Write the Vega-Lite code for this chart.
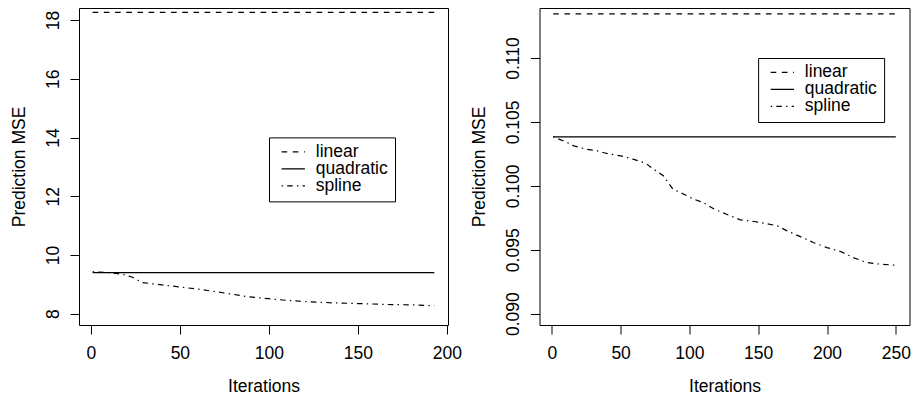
{
  "$schema": "https://vega.github.io/schema/vega-lite/v6.json",
  "padding": {"left": 9, "top": 7, "right": 0, "bottom": 0},
  "bounds": "flush",
  "spacing": 91.5,
  "config": {
    "font": "Liberation Sans",
    "view": {"stroke": "black", "strokeWidth": 1},
    "axis": {
      "grid": false, "domain": false, "ticks": true, "tickColor": "black", "tickSize": 9, "tickWidth": 1,
      "labelFont": "Liberation Sans", "labelFontSize": 17.5, "labelColor": "black",
      "titleFont": "Liberation Sans", "titleFontSize": 17.5, "titleFontWeight": "normal", "titleColor": "black"
    },
    "axisX": {"labelPadding": 10, "titleY": 66, "titleBaseline": "alphabetic"},
    "axisY": {"labelAngle": -90, "labelAlign": "center", "labelBaseline": "alphabetic", "labelPadding": 12, "titleX": -55, "titleY": 158.5, "titleBaseline": "alphabetic"},
    "legend": {
      "orient": "none", "symbolType": "stroke", "symbolSize": 544, "symbolStrokeColor": "black", "symbolStrokeWidth": 1.2,
      "labelFont": "Liberation Sans", "labelFontSize": 17.5, "labelColor": "black", "labelOffset": 10,
      "padding": 6.75, "strokeColor": "black", "fillColor": "white", "clipHeight": 15.3, "rowPadding": -3.2, "symbolOffset": 5
    }
  },
  "datasets": {
    "left": [
      {"iter": 1, "mse": 18.26, "model": "linear"},
      {"iter": 193, "mse": 18.26, "model": "linear"},
      {"iter": 1, "mse": 9.40, "model": "quadratic"},
      {"iter": 193, "mse": 9.40, "model": "quadratic"},
      {"iter": 1, "mse": 9.43, "model": "spline"},
      {"iter": 10, "mse": 9.40, "model": "spline"},
      {"iter": 18, "mse": 9.34, "model": "spline"},
      {"iter": 23, "mse": 9.25, "model": "spline"},
      {"iter": 29, "mse": 9.06, "model": "spline"},
      {"iter": 37, "mse": 9.00, "model": "spline"},
      {"iter": 50, "mse": 8.91, "model": "spline"},
      {"iter": 61, "mse": 8.83, "model": "spline"},
      {"iter": 70, "mse": 8.75, "model": "spline"},
      {"iter": 80, "mse": 8.66, "model": "spline"},
      {"iter": 89, "mse": 8.57, "model": "spline"},
      {"iter": 100, "mse": 8.51, "model": "spline"},
      {"iter": 111, "mse": 8.45, "model": "spline"},
      {"iter": 122, "mse": 8.41, "model": "spline"},
      {"iter": 136, "mse": 8.37, "model": "spline"},
      {"iter": 147, "mse": 8.35, "model": "spline"},
      {"iter": 158, "mse": 8.33, "model": "spline"},
      {"iter": 169, "mse": 8.31, "model": "spline"},
      {"iter": 182, "mse": 8.30, "model": "spline"},
      {"iter": 193, "mse": 8.27, "model": "spline"}
    ],
    "right": [
      {"iter": 1, "mse": 0.11345, "model": "linear"},
      {"iter": 250, "mse": 0.11345, "model": "linear"},
      {"iter": 1, "mse": 0.10384, "model": "quadratic"},
      {"iter": 250, "mse": 0.10384, "model": "quadratic"},
      {"iter": 1, "mse": 0.10384, "model": "spline"},
      {"iter": 11, "mse": 0.10340, "model": "spline"},
      {"iter": 16, "mse": 0.10313, "model": "spline"},
      {"iter": 25, "mse": 0.10287, "model": "spline"},
      {"iter": 33, "mse": 0.10274, "model": "spline"},
      {"iter": 40, "mse": 0.10253, "model": "spline"},
      {"iter": 50, "mse": 0.10235, "model": "spline"},
      {"iter": 59, "mse": 0.10209, "model": "spline"},
      {"iter": 68, "mse": 0.10178, "model": "spline"},
      {"iter": 74, "mse": 0.10131, "model": "spline"},
      {"iter": 81, "mse": 0.10079, "model": "spline"},
      {"iter": 88, "mse": 0.09974, "model": "spline"},
      {"iter": 96, "mse": 0.09935, "model": "spline"},
      {"iter": 103, "mse": 0.09896, "model": "spline"},
      {"iter": 110, "mse": 0.09870, "model": "spline"},
      {"iter": 118, "mse": 0.09818, "model": "spline"},
      {"iter": 127, "mse": 0.09778, "model": "spline"},
      {"iter": 137, "mse": 0.09734, "model": "spline"},
      {"iter": 147, "mse": 0.09721, "model": "spline"},
      {"iter": 156, "mse": 0.09705, "model": "spline"},
      {"iter": 164, "mse": 0.09687, "model": "spline"},
      {"iter": 171, "mse": 0.09648, "model": "spline"},
      {"iter": 181, "mse": 0.09601, "model": "spline"},
      {"iter": 190, "mse": 0.09557, "model": "spline"},
      {"iter": 200, "mse": 0.09517, "model": "spline"},
      {"iter": 210, "mse": 0.09486, "model": "spline"},
      {"iter": 219, "mse": 0.09439, "model": "spline"},
      {"iter": 229, "mse": 0.09400, "model": "spline"},
      {"iter": 239, "mse": 0.09387, "model": "spline"},
      {"iter": 250, "mse": 0.09379, "model": "spline"}
    ]
  },
  "hconcat": [
    {
      "width": 369, "height": 317,
      "data": {"name": "left"},
      "mark": {"type": "line", "color": "black", "strokeWidth": 1.2},
      "encoding": {
        "x": {"field": "iter", "type": "quantitative", "title": "Iterations",
              "scale": {"domain": [-6.68, 200.68], "nice": false, "zero": false},
              "axis": {"values": [0, 50, 100, 150, 200], "titleX": 184.5}},
        "y": {"field": "mse", "type": "quantitative", "title": "Prediction MSE",
              "scale": {"domain": [7.615, 18.41], "nice": false, "zero": false},
              "axis": {"values": [8, 10, 12, 14, 16, 18]}},
        "strokeDash": {"field": "model", "type": "nominal",
              "scale": {"domain": ["linear", "quadratic", "spline"], "range": [[5.6, 5.6], [1, 0], [1.4, 4.2, 5.6, 4.2]]},
              "legend": {"title": null, "legendX": 190, "legendY": 129.4}}
      }
    },
    {
      "width": 370, "height": 317,
      "data": {"name": "right"},
      "mark": {"type": "line", "color": "black", "strokeWidth": 1.2},
      "encoding": {
        "x": {"field": "iter", "type": "quantitative", "title": "Iterations",
              "scale": {"domain": [-8.96, 259.96], "nice": false, "zero": false},
              "axis": {"values": [0, 50, 100, 150, 200, 250], "titleX": 185}},
        "y": {"field": "mse", "type": "quantitative", "title": "Prediction MSE",
              "scale": {"domain": [0.089115, 0.113915], "nice": false, "zero": false},
              "axis": {"values": [0.09, 0.095, 0.1, 0.105, 0.11], "format": ".3f"}},
        "strokeDash": {"field": "model", "type": "nominal",
              "scale": {"domain": ["linear", "quadratic", "spline"], "range": [[5.6, 5.6], [1, 0], [1.4, 4.2, 5.6, 4.2]]},
              "legend": {"title": null, "legendX": 218.6, "legendY": 50}}
      }
    }
  ],
  "resolve": {"scale": {"strokeDash": "independent"}, "legend": {"strokeDash": "independent"}}
}
